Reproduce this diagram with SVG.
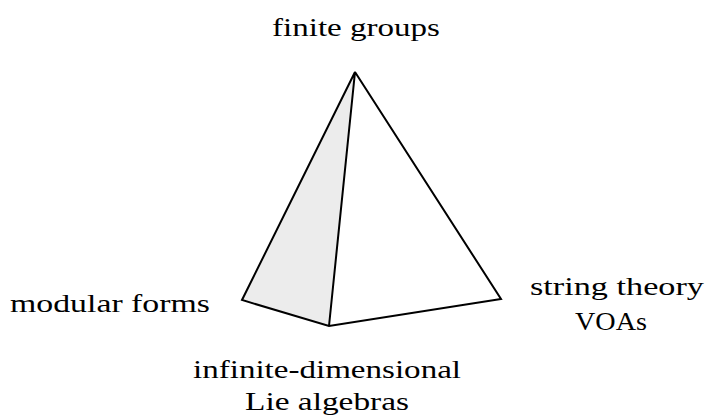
<svg xmlns="http://www.w3.org/2000/svg" width="710" height="418" viewBox="0 0 710 418">
<style>
text{font-family:"Liberation Serif","Times New Roman","DejaVu Serif",serif;font-size:26px;fill:#000;text-anchor:middle}
.edge{fill:none;stroke:#000;stroke-width:2;stroke-linejoin:miter}
</style>
<rect width="710" height="418" fill="#fff"/>
<g id="connectors">
<polygon points="355,72 242,300 329,326" fill="#ececec" stroke="none"/>
<polyline class="edge" points="329,326 355,72 242,300 329,326 501,299 355,72"/>
</g>
<g id="finite-groups"><text x="356" y="36" textLength="168" lengthAdjust="spacingAndGlyphs">finite groups</text></g>
<g id="modular-forms"><text x="110" y="312" textLength="200" lengthAdjust="spacingAndGlyphs">modular forms</text></g>
<g id="lie-algebras"><text x="327" y="378" textLength="268" lengthAdjust="spacingAndGlyphs">infinite-dimensional</text><text x="327" y="410" textLength="164" lengthAdjust="spacingAndGlyphs">Lie algebras</text></g>
<g id="string-theory"><text x="617" y="295" textLength="174" lengthAdjust="spacingAndGlyphs">string theory</text><text x="611" y="330" textLength="72" lengthAdjust="spacingAndGlyphs">VOAs</text></g>
</svg>
